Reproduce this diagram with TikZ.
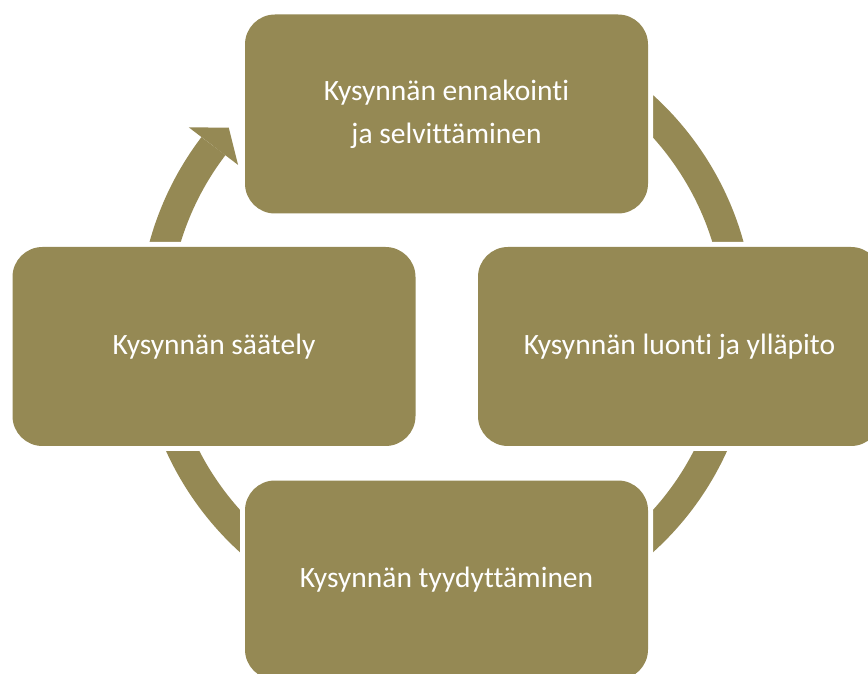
\documentclass[tikz,border=0pt]{standalone}
\usepackage{fontspec}
\setmainfont[Ligatures=NoCommon]{Carlito}
\definecolor{cyclefill}{RGB}{149,137,84}
\begin{document}
\begin{tikzpicture}[x=1pt,y=1pt,
  stage/.style={rectangle, rounded corners=30pt, fill=cyclefill,
    minimum width=403pt, minimum height=199pt, inner sep=0pt,
    text=white, align=center, font=\fontsize{29.5}{43}\selectfont,
    preaction={draw=white, line width=10pt}},
  ring/.style={draw=cyclefill, line width=30pt},
  ringhead/.style={fill=cyclefill}]
\useasboundingbox (0,0) rectangle (868,673);
\clip (0,0) rectangle (868,673);
\coordinate (c) at (446.5,349.3);
% circular arrow running clockwise behind the four stages
\draw[ring] ([shift={(125:293)}]c) arc[start angle=125, end angle=-217.3, radius=293];
\fill[ringhead] ([shift={(142.7:324)}]c) -- ([shift={(138:293)}]c)
  -- ([shift={(142.7:262)}]c) -- cycle;
% stages
\node[stage] (forecast) at (446.5,559) {Kysynnän ennakointi\\ja selvittäminen};
\node[stage] (create) at (679.5,326.5) {Kysynnän luonti ja ylläpito};
\node[stage] (satisfy) at (446.5,93) {Kysynnän tyydyttäminen};
\node[stage] (regulate) at (214,326.5) {Kysynnän säätely};
\end{tikzpicture}
\end{document}
